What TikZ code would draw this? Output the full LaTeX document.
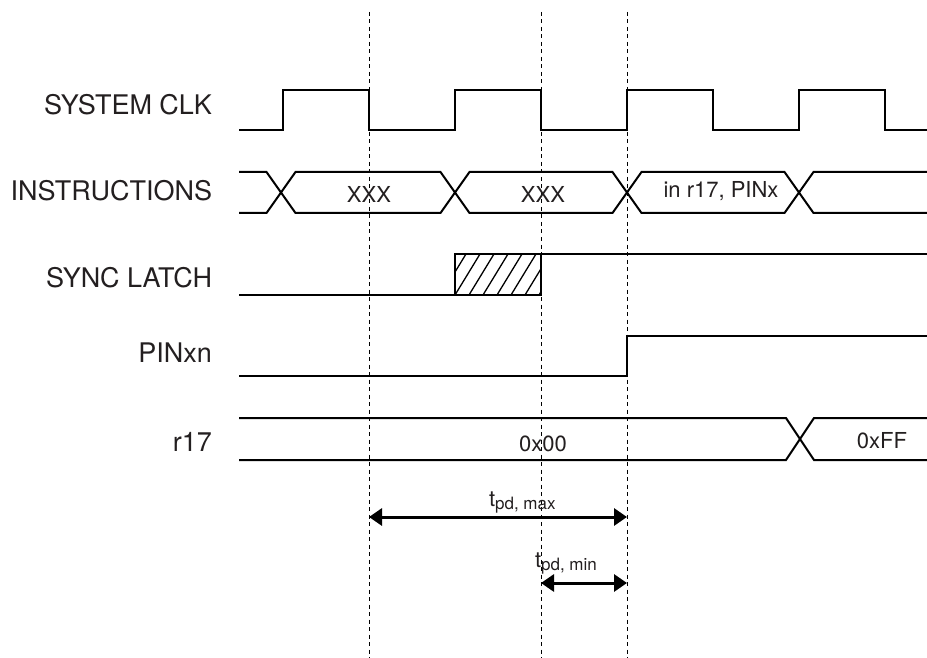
\documentclass[tikz,border=0pt]{standalone}
\usepackage{fontspec}
\setmainfont{TeX Gyre Heros}
\usetikzlibrary{arrows.meta}
\definecolor{txtgray}{HTML}{231F20}

\begin{document}
\begin{tikzpicture}[x=1pt,y=-1pt,line width=2pt]
    \tikzstyle{signame}=[anchor=east,inner sep=0pt,text=txtgray,font=\fontsize{27}{30}\selectfont]
    \tikzstyle{sigval}=[inner sep=0pt,text=txtgray,font=\fontsize{22}{24}\selectfont]
    \tikzstyle{clkedge}=[dash pattern=on 4pt off 3.5pt,line width=1pt]
    \tikzstyle{tdarrow}=[{Triangle[length=13pt,width=17pt]}-{Triangle[length=13pt,width=17pt]},line width=3pt]

    \useasboundingbox (0,0) rectangle (927,658);

    %% Clock edges
    \foreach \x in {369,541,627}
        \draw[clkedge] (\x,12) -- (\x,658);

    %% Signal names
    \node[signame] (clkname) at (213,104.5) {SYSTEM CLK};
    \node[signame] (insname) at (213,190.5) {INSTRUCTIONS};
    \node[signame] (syncname) at (213,277.5) {SYNC LATCH};
    \node[signame] (pinname) at (213,352.5) {PINxn};
    \node[signame] (regname) at (213,442) {r17};

    %% SYSTEM CLK
    \draw (239,130) -- (283,130) -- (283,90) -- (369,90) -- (369,130) -- (455,130)
          -- (455,90) -- (541,90) -- (541,130) -- (627,130) -- (627,90) -- (713,90)
          -- (713,130) -- (799,130) -- (799,90) -- (885,90) -- (885,130) -- (927,130);

    %% INSTRUCTIONS bus
    \draw (239,172) -- (266.5,172) -- (295.5,213) -- (440.5,213) -- (469.5,172)
          -- (612.5,172) -- (641.5,213) -- (784.5,213) -- (813.5,172) -- (927,172);
    \draw (239,213) -- (266.5,213) -- (295.5,172) -- (440.5,172) -- (469.5,213)
          -- (612.5,213) -- (641.5,172) -- (784.5,172) -- (813.5,213) -- (927,213);
    \node[sigval] (ins1) at (369,194.5) {XXX};
    \node[sigval] (ins2) at (543,194.5) {XXX};
    \node[sigval] (ins3) at (721,191.5) {in r17, PINx};

    %% SYNC LATCH
    \draw (239,295) -- (455,295);
    \begin{scope}
        \clip (455,295) rectangle (541,254);
        \foreach \x in {441,455,...,560}
            \draw[line width=1.3pt] (\x,295) -- (\x+25,254);
    \end{scope}
    \draw (455,295) rectangle (541,254);
    \draw (541,254) -- (927,254);

    %% PINxn
    \draw (239,376) -- (627,376) -- (627,336) -- (927,336);

    %% r17
    \draw (239,418) -- (786,418) -- (814,460) -- (927,460);
    \draw (239,460) -- (786,460) -- (814,418) -- (927,418);
    \node[sigval] (reg1) at (543,444) {0x00};
    \node[sigval] (reg2) at (882,441) {0xFF};

    %% Propagation delays
    \coordinate (tmaxA) at (369,517);
    \coordinate (tmaxB) at (627,517);
    \draw[tdarrow] (tmaxA) -- (tmaxB);
    \node[sigval,anchor=base west] (tmaxlbl) at (488,506)
        {t{\fontsize{17}{17}\selectfont\raisebox{-3pt}{pd, max}}};

    \coordinate (tminA) at (541,583);
    \coordinate (tminB) at (627,583);
    \draw[tdarrow] (tminA) -- (tminB);
    \node[sigval,anchor=base west] (tminlbl) at (534,567)
        {t{\fontsize{17}{17}\selectfont\raisebox{-3pt}{pd, min}}};
\end{tikzpicture}
\end{document}
